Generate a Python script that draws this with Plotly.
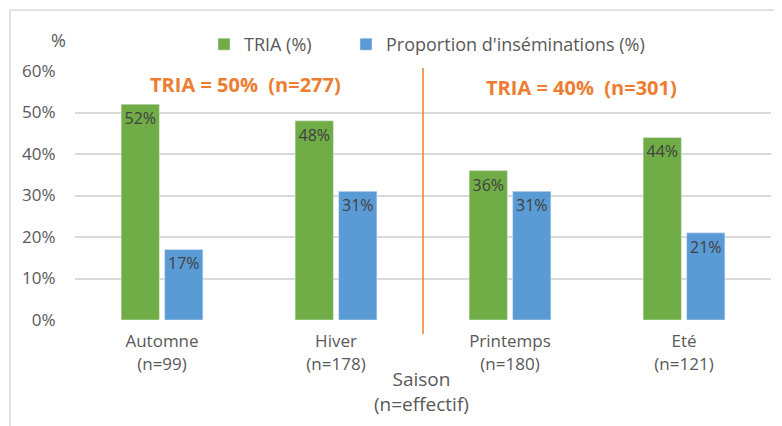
import plotly.graph_objects as go

categories = ["Automne<br>(n=99)", "Hiver<br>(n=178)", "Printemps<br>(n=180)", "Eté<br>(n=121)"]
tria = [52, 48, 36, 44]
proportion = [17, 31, 31, 21]
series_names = ["TRIA (%)", "Proportion d'inséminations (%)"]
group_labels = ["TRIA = 50%  (n=277)", "TRIA = 40%  (n=301)"]
axis_title = "Saison<br>(n=effectif)"
y_ticks = [0, 10, 20, 30, 40, 50, 60]
y_tick_labels = ["0%", "10%", "20%", "30%", "40%", "50%", "60%"]

FONT = "'Open Sans', 'Noto Sans', sans-serif"
GRAY = "#595959"
GREEN = "#70AD47"
BLUE = "#5B9BD5"
ORANGE = "#ED7D31"
GRID = "#D9D9D9"

fig = go.Figure()
for vals, name, color, lg in [(tria, series_names[0], GREEN, "legend"),
                              (proportion, series_names[1], BLUE, "legend2")]:
    fig.add_trace(go.Bar(
        x=categories, y=vals, name=name, marker_color=color, legend=lg,
        text=[f"{v}%" for v in vals], textposition="inside", insidetextanchor="end",
        textangle=0, textfont=dict(color="#404040", size=16, family=FONT),
        constraintext="none", hoverinfo="skip",
    ))

# the page body adds an 8px offset; figure is sized to fit the window
OFF = 8
W, H = 782 - OFF, 426 - OFF
L, R, T, B = 75 - OFF, 11, 71 - OFF, 106
pw, ph = W - L - R, H - T - B

def px_x(x):
    return (x - OFF - L) / pw

def px_y(y):
    return (H - B - (y - OFF)) / ph

# outer frame
fig.add_shape(type="rect", xref="paper", yref="paper",
              x0=px_x(10), x1=px_x(800), y0=px_y(440), y1=px_y(10),
              line=dict(color=GRID, width=1.5), layer="below")
# separator line between Hiver and Printemps
fig.add_shape(type="line", xref="x", yref="paper", x0=1.5, x1=1.5,
              y0=px_y(334), y1=px_y(68), line=dict(color=ORANGE, width=1.5))

for label, cx, cy in [(group_labels[0], 245, 84), (group_labels[1], 581, 87)]:
    fig.add_annotation(x=px_x(cx), y=px_y(cy), xref="paper", yref="paper",
                       xanchor="center", yanchor="middle", text="<b>" + label + "</b>",
                       showarrow=False, font=dict(color=ORANGE, size=20, family=FONT))
fig.add_annotation(x=px_x(58), y=px_y(40), xref="paper", yref="paper", text="%",
                   xanchor="center", yanchor="middle",
                   showarrow=False, font=dict(color=GRAY, size=18, family=FONT))
fig.add_annotation(x=px_x(421), y=px_y(391), xref="paper", yref="paper", text=axis_title,
                   xanchor="center", yanchor="middle",
                   showarrow=False, font=dict(color=GRAY, size=19, family=FONT))

legend_style = dict(orientation="h", yanchor="top", xanchor="left", y=px_y(26),
                    font=dict(size=18, color=GRAY), bgcolor="rgba(0,0,0,0)")

fig.update_layout(
    width=W, height=H,
    margin=dict(l=L, r=R, t=T, b=B, autoexpand=False),
    paper_bgcolor="white", plot_bgcolor="white",
    barmode="group", bargap=0.5, bargroupgap=0.12,
    font=dict(family=FONT, color=GRAY, size=15),
    showlegend=True,
    legend=dict(x=px_x(204), **legend_style),
    legend2=dict(x=px_x(346), **legend_style),
    xaxis=dict(showgrid=False, showline=False, tickfont=dict(size=17, color=GRAY),
               ticks="outside", ticklen=6, tickcolor="rgba(0,0,0,0)"),
    yaxis=dict(range=[0, 60], tickvals=y_ticks, ticktext=y_tick_labels, showgrid=True, gridcolor=GRID,
               gridwidth=1.5, zeroline=False, showline=False, tickfont=dict(size=17, color=GRAY),
               ticks="outside", ticklen=15, tickcolor="rgba(0,0,0,0)"),
)

fig.write_html("out.html")
